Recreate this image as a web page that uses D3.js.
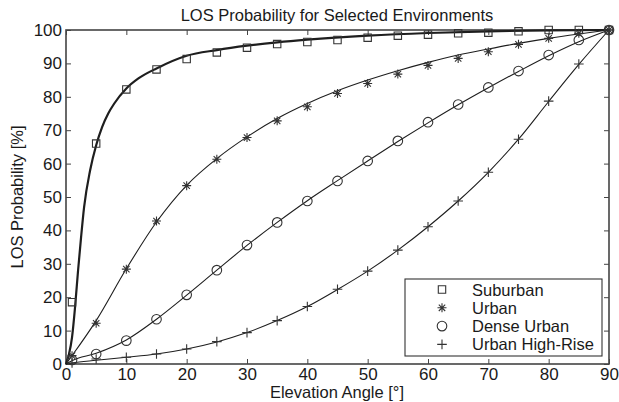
<!DOCTYPE html>
<html lang="en">
<head>
<meta charset="utf-8">
<title>LOS Probability</title>
<script src="https://d3js.org/d3.v7.min.js"></script>
<style type="text/css">
  body { margin: 0; background: #fff; }
  text { font-family: "Liberation Sans", Arial, sans-serif; fill: #1a1a1a; }
</style>
</head>
<body>
<svg width="619" height="402" id="chart"></svg>
<script>

  // marker angles (deg)
  var angles = [1, 5, 10, 15, 20, 25, 30, 35, 40, 45, 50, 55, 60, 65, 70, 75, 80, 85, 90];

  // measured points (%)
  var suburban  = [18.5, 66, 82.2, 88.2, 91.3, 93.3, 94.7, 95.8, 96.4, 97.0, 97.7, 98.3, 98.6, 99.0, 99.2, 99.6, 100, 100, 100];
  var urban     = [2.5, 12.2, 28.4, 42.8, 53.4, 61.3, 67.8, 72.8, 77.0, 81.0, 84.0, 86.8, 89.4, 91.5, 93.5, 95.7, 97.5, 99.0, 100];
  var dense     = [1.2, 3.0, 7.0, 13.4, 20.7, 28.1, 35.6, 42.4, 48.8, 54.8, 60.8, 66.8, 72.4, 77.7, 82.8, 87.7, 92.5, 97.0, 100];
  var highrise  = [0.3, 1.5, 2.0, 3.0, 4.5, 6.7, 9.4, 13.0, 17.2, 22.4, 27.8, 34.1, 41.1, 48.8, 57.4, 67.3, 78.7, 89.8, 100];

  // fitted curves
  var subCurveX   = [0, 0.5, 1, 1.5, 2, 2.5, 3, 4, 5, 6, 7, 8, 10, 12, 15, 20, 25, 30, 35, 40, 50, 60, 70, 80, 90];
  var subCurveY   = [0, 3, 8, 17, 28, 38, 47, 58, 65.5, 71, 75, 78, 82.5, 85.5, 88.5, 92.3, 94, 95.3, 96.3, 97.1, 98.3, 99.1, 99.6, 99.9, 100];
  var fitX        = [0, 1, 5, 10, 15, 20, 25, 30, 35, 40, 45, 50, 55, 60, 65, 70, 75, 80, 85, 90];
  var urbanCurve  = [0, 2.5, 13, 28.5, 42.5, 53.5, 61.5, 68, 73.5, 78, 81.8, 85, 87.8, 90.3, 92.5, 94.3, 96, 97.5, 98.8, 100];
  var denseCurve  = [0, 1, 3.2, 7.2, 13.4, 20.6, 28.1, 35.5, 42.4, 48.9, 54.9, 60.8, 66.6, 72.2, 77.6, 82.7, 87.6, 92.3, 96.5, 100];
  var highCurve   = [0, 0.3, 1.1, 2.0, 3.0, 4.5, 6.6, 9.4, 13.0, 17.2, 22.3, 27.8, 34.1, 41.1, 48.8, 57.4, 67.3, 78.6, 89.7, 100];

  var seriesNames = ["Suburban", "Urban", "Dense Urban", "Urban High-Rise"];
  var xTicks = [0, 10, 20, 30, 40, 50, 60, 70, 80, 90];
  var yTicks = [0, 10, 20, 30, 40, 50, 60, 70, 80, 90, 100];

  var svg = d3.select("#chart");
  var x = d3.scaleLinear().domain([0, 90]).range([66, 609]);
  var y = d3.scaleLinear().domain([0, 100]).range([364, 30]);

  // markers as stroked paths
  function markerPath(kind) {
    if (kind == "square") return "M-3.7,-3.7H3.7V3.7H-3.7Z";
    if (kind == "circle") { var p = d3.path(); p.arc(0, 0, 4.8, 0, 2 * Math.PI); return p.toString(); }
    if (kind == "star") return "M-4.5,0H4.5M0,-4.5V4.5M-3.2,-3.2L3.2,3.2M-3.2,3.2L3.2,-3.2";
    return "M-4.8,0H4.8M0,-4.8V4.8";
  }
  var kinds = ["square", "star", "circle", "plus"];

  // frame + ticks (inward, all four sides)
  var g = svg.append("g");
  g.append("rect").attr("x", x(0)).attr("y", y(100))
    .attr("width", x(90) - x(0)).attr("height", y(0) - y(100))
    .attr("fill", "none").attr("stroke", "#444").attr("stroke-width", 1.6);

  var xAxis = d3.axisBottom(x).tickValues(xTicks).tickSizeInner(-5).tickSizeOuter(0).tickPadding(4);
  var xAxisTop = d3.axisTop(x).tickValues(xTicks).tickSizeInner(-5).tickSizeOuter(0).tickFormat("");
  var yAxis = d3.axisLeft(y).tickValues(yTicks).tickSizeInner(-5).tickSizeOuter(0).tickPadding(4);
  var yAxisRight = d3.axisRight(y).tickValues(yTicks).tickSizeInner(-5).tickSizeOuter(0).tickFormat("");

  var gx = g.append("g").attr("transform", `translate(0, ${y(0)})`).call(xAxis);
  var gxt = g.append("g").attr("transform", `translate(0, ${y(100)})`).call(xAxisTop);
  var gy = g.append("g").attr("transform", `translate(${x(0)}, 0)`).call(yAxis);
  var gyr = g.append("g").attr("transform", `translate(${x(90)}, 0)`).call(yAxisRight);
  [gx, gxt, gy, gyr].forEach(function(a) {
    a.select(".domain").remove();
    a.selectAll(".tick line").attr("stroke", "#444");
    a.selectAll(".tick text").attr("font-size", 17).attr("fill", "#1a1a1a")
      .style("font-family", "'Liberation Sans', Arial, sans-serif");
  });

  // curves
  var line = d3.line().curve(d3.curveMonotoneX)
    .x(function(d) { return x(d[0]); })
    .y(function(d) { return y(d[1]); });

  var curves = [
    { xs: subCurveX, ys: subCurveY, w: 2.2 },
    { xs: fitX, ys: urbanCurve, w: 1.1 },
    { xs: fitX, ys: denseCurve, w: 1.1 },
    { xs: fitX, ys: highCurve, w: 1.1 }
  ];
  curves.forEach(function(c) {
    g.append("path")
      .datum(c.xs.map(function(v, i) { return [v, c.ys[i]]; }))
      .attr("d", line)
      .attr("fill", "none")
      .attr("stroke", "#1e1e1e")
      .attr("stroke-width", c.w);
  });

  // markers
  [suburban, urban, dense, highrise].forEach(function(vals, si) {
    g.selectAll(".m" + si).data(vals).enter().append("path")
      .attr("class", "m" + si)
      .attr("transform", function(d, i) { return `translate(${x(angles[i])}, ${y(d)})`; })
      .attr("d", markerPath(kinds[si]))
      .attr("fill", "none")
      .attr("stroke", "#333")
      .attr("stroke-width", 1.1);
  });

  // legend
  var lg = svg.append("g");
  lg.append("rect").attr("x", 405).attr("y", 279).attr("width", 197).attr("height", 77)
    .attr("fill", "#fff").attr("stroke", "#333").attr("stroke-width", 1.1);
  seriesNames.forEach(function(name, i) {
    var yy = 289.5 + i * 18.3;
    lg.append("path").attr("transform", `translate(442, ${yy})`)
      .attr("d", markerPath(kinds[i])).attr("fill", "none").attr("stroke", "#333").attr("stroke-width", 1.1);
    lg.append("text").attr("x", 472).attr("y", yy + 6).attr("font-size", 16.5).text(name);
  });

  // titles
  svg.append("text").attr("x", 337).attr("y", 21).attr("text-anchor", "middle")
    .attr("font-size", 16.5).text("LOS Probability for Selected Environments");
  svg.append("text").attr("x", 337).attr("y", 398).attr("text-anchor", "middle")
    .attr("font-size", 16.5).text("Elevation Angle [°]");
  svg.append("text").attr("transform", "translate(23, 197) rotate(-90)").attr("text-anchor", "middle")
    .attr("font-size", 16.5).text("LOS Probability [%]");

</script>
</body>
</html>
